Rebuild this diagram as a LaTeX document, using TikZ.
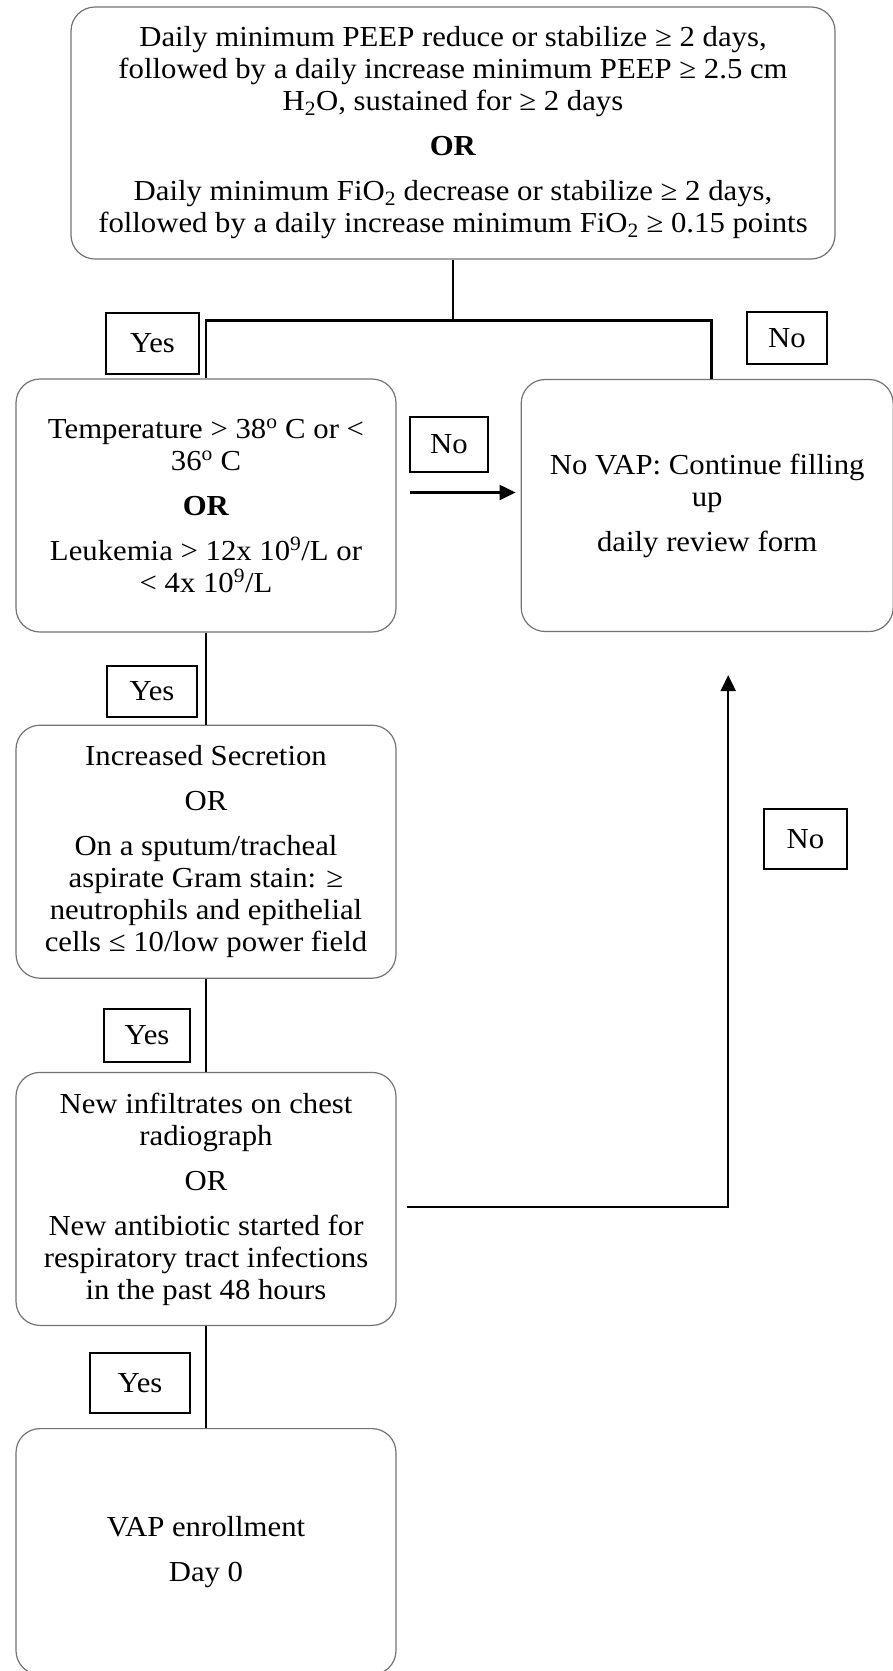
\documentclass[tikz,border=0pt]{standalone}
\usepackage{fontspec}
\setmainfont{Liberation Serif}[FakeStretch=1.06]
\usetikzlibrary{positioning}
\usetikzlibrary{arrows.meta}

\tikzset{
  crit/.style={draw=black!55, line width=1.2pt, rounded corners=24pt, align=center,
    minimum width=380pt, minimum height=253pt, inner sep=0pt},
  tag/.style={draw, line width=1.8pt, inner sep=0pt},
  link/.style={line width=2.6pt},
  arr/.style={line width=2.2pt, -{Triangle[length=16pt,width=15pt]}},
}

\begin{document}
\begin{tikzpicture}[x=1pt, y=-1pt, node distance=92pt, font=\fontsize{29}{32}\selectfont]
    \useasboundingbox (0,0) rectangle (893,1671);
    % Place nodes
    \node [crit, minimum width=764pt, minimum height=252pt] (peep) at (453,133)
      {Daily minimum PEEP reduce or stabilize ≥ 2 days,\\
       followed by a daily increase minimum PEEP ≥ 2.5 cm\\
       H\textsubscript{2}O, sustained for ≥ 2 days\\[13pt]
       \textbf{OR}\\[13pt]
       Daily minimum FiO\textsubscript{2} decrease or stabilize ≥ 2 days,\\
       followed by a daily increase minimum FiO\textsubscript{2} ≥ 0.15 points};
    \node [crit] (temp) at (206,505.5)
      {Temperature > 38\textsuperscript{o} C or <\\
       36\textsuperscript{o} C\\[13pt]
       \textbf{OR}\\[13pt]
       Leukemia > 12x 10\textsuperscript{9}/L or\\
       < 4x 10\textsuperscript{9}/L};
    \node [crit, right=124pt of temp, minimum width=372pt, minimum height=252pt] (novap)
      {No VAP: Continue filling\\ up\\[13pt] daily review form};
    \node [crit, below=of temp] (secr)
      {Increased Secretion\\[13pt]
       OR\\[13pt]
       On a sputum/tracheal\\
       aspirate Gram stain: ≥\\
       neutrophils and epithelial\\
       cells ≤ 10/low power field};
    \node [crit, below=93pt of secr] (infil)
      {New infiltrates on chest\\
       radiograph\\[13pt]
       OR\\[13pt]
       New antibiotic started for\\
       respiratory tract infections\\
       in the past 48 hours};
    \node [crit, below=102pt of infil, minimum height=246pt] (enrol)
      {VAP enrollment\\[13pt] Day 0};

    % Yes / No tags
    \node [tag, minimum width=93pt, minimum height=61pt] (yes1) at (152.5,343.5) {Yes};
    \node [tag, minimum width=80pt, minimum height=52pt] (no1) at (787,338) {No};
    \node [tag, minimum width=78pt, minimum height=55pt] (no2) at (449,444.5) {No};
    \node [tag, minimum width=90pt, minimum height=51pt] (yes2) at (152,691.5) {Yes};
    \node [tag, minimum width=83pt, minimum height=60pt] (no3) at (805.5,839) {No};
    \node [tag, minimum width=86pt, minimum height=53pt] (yes3) at (147,1035.5) {Yes};
    \node [tag, minimum width=100pt, minimum height=60pt] (yes4) at (140,1383) {Yes};

    % Connectors
    \draw [link] (peep.south) -- ++(0,61) coordinate (fork);
    \draw [link] (temp.north) |- (fork) -| ([xshift=4pt]novap.north);
    \draw [link] (temp) -- (secr);
    \draw [link] (secr) -- (infil);
    \draw [link] (infil) -- (enrol);
    \draw [arr, shorten <=13pt, shorten >=5pt]
      ([yshift=13pt]temp.east) -- ([yshift=13pt]temp.east -| novap.west);
    \draw [arr, shorten <=10pt, shorten >=43pt]
      ([yshift=-8pt]infil.east) -| ([xshift=21pt]novap.south);
\end{tikzpicture}
\end{document}
